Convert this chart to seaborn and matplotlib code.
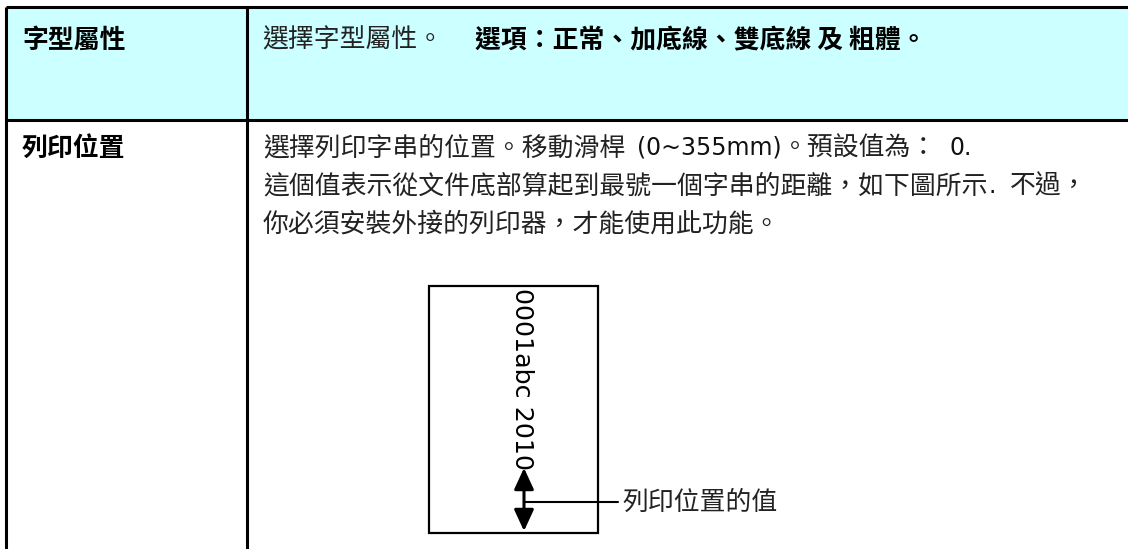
import matplotlib
matplotlib.use("Agg")
import matplotlib.pyplot as plt
import seaborn as sns
from matplotlib.patches import Rectangle, FancyArrowPatch

sns.set_style("white")
plt.rcParams['font.family'] = ['Noto Sans CJK TC', 'DejaVu Sans']

# ---- content ----
row_labels = ["字型屬性", "列印位置"]
row1_plain = "選擇字型屬性。"
row1_bold = "選項：正常、加底線、雙底線 及 粗體。"
# (text, style, gap-before in px)
row2_line1 = [("選擇列印字串的位置。移動滑桿", "cjk", 0), ("(0~355mm)", "latin", 12),
              ("。預設值為：", "cjk", 0), ("0.", "latin", 12)]
row2_line2 = [("這個值表示從文件底部算起到最號一個字串的距離，如下圖所示", "cjk", 0),
              (".", "latin", 1), ("不過，", "cjk", 14)]
row2_line3 = [("你必須安裝外接的列印器，才能使用此功能。", "cjk", 0)]
sample_string = "0001abc 2010"
callout_label = "列印位置的值"

W, H = 1128, 549
fig = plt.figure(figsize=(W / 100, H / 100), dpi=100)
ax = fig.add_axes([0, 0, 1, 1])
ax.set_xlim(0, W)
ax.set_ylim(H, 0)
ax.axis("off")
renderer = fig.canvas.get_renderer()

# table geometry
left, div, top, hdr_bot = 6, 247, 7, 120
ax.add_patch(Rectangle((left, top), W - left, hdr_bot - top, facecolor="#CCFFFF",
                       edgecolor="none", zorder=0))
lw = 2.2
ax.plot([left, W], [top, top], color="black", lw=lw, solid_capstyle="butt")
ax.plot([left, W], [hdr_bot, hdr_bot], color="black", lw=lw, solid_capstyle="butt")
ax.plot([left, left], [top, H], color="black", lw=lw, solid_capstyle="butt")
ax.plot([div, div], [top, H], color="black", lw=lw, solid_capstyle="butt")

CJK = dict(family=["Noto Sans CJK TC", "DejaVu Sans"], fontsize=18.6, color="#222222")
LAT = dict(family=["DejaVu Sans", "Noto Sans CJK TC"], fontsize=17, color="#111111")
BOLD = dict(family=["Noto Sans CJK TC", "DejaVu Sans"], fontsize=18.6, fontweight="bold",
            color="black")
styles = {"cjk": CJK, "latin": LAT}


def draw_runs(x, y, parts):
    for s, st, gap in parts:
        x += gap
        t = ax.text(x, y, s, ha="left", va="center", **styles[st])
        x += t.get_window_extent(renderer).width


# left labels
ax.text(22, 40, row_labels[0], ha="left", va="center", **BOLD)
ax.text(22, 148, row_labels[1], ha="left", va="center", **BOLD)

# header row text
ax.text(262, 40, row1_plain, ha="left", va="center", **CJK)
ax.text(475, 40, row1_bold, ha="left", va="center", **BOLD)

# second row text
draw_runs(263, 148, row2_line1)
draw_runs(263, 186, row2_line2)
draw_runs(263, 224, row2_line3)

# page diagram
ax.add_patch(Rectangle((429, 286), 169, 247, facecolor="white", edgecolor="black",
                       lw=1.6, zorder=2))
ax.text(522, 288, sample_string, rotation=-90, ha="center", va="top",
        family="DejaVu Sans", fontsize=18.3, color="black", zorder=3)
arr = FancyArrowPatch((524, 468), (524, 531),
                      arrowstyle="<|-|>,head_length=1.3,head_width=0.6",
                      mutation_scale=10, color="black", lw=2.2, zorder=4,
                      shrinkA=0, shrinkB=0)
ax.add_patch(arr)
ax.plot([524, 618], [502, 502], color="black", lw=1.5, zorder=4)
ax.text(622, 502, callout_label, ha="left", va="center", **CJK)

fig.savefig("out.png", dpi=100, facecolor="white")
